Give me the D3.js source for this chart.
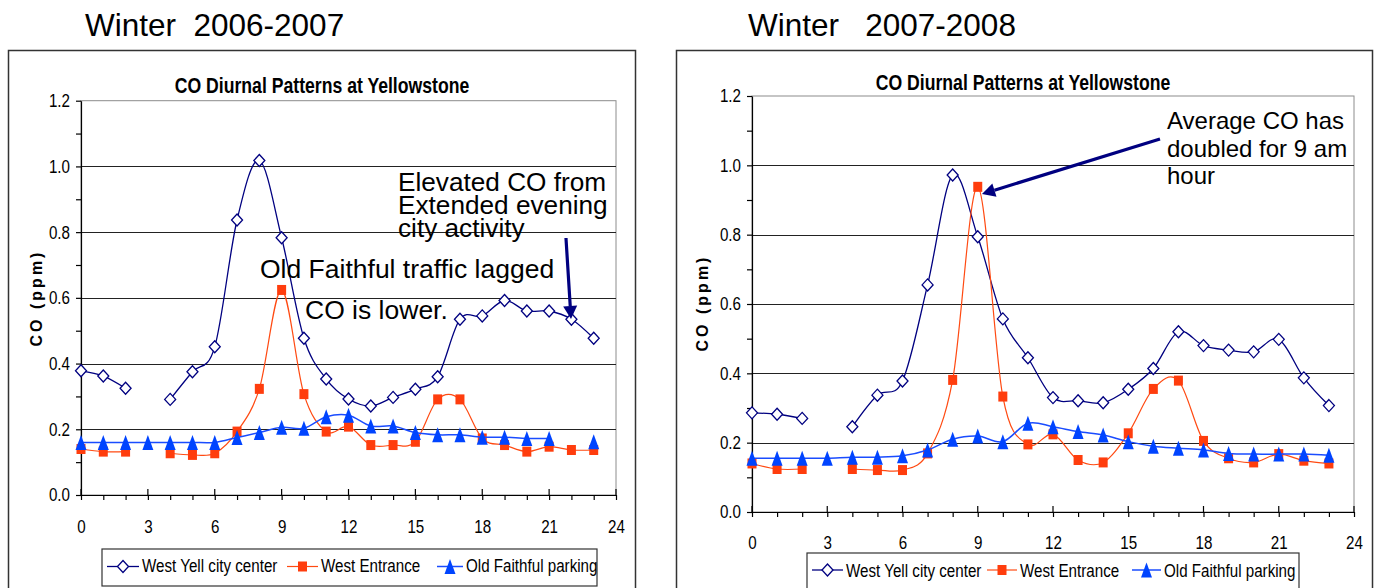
<!DOCTYPE html>
<html lang="en">
<head>
<meta charset="utf-8" />
<title>CO Diurnal Patterns at Yellowstone</title>
<script src="https://d3js.org/d3.v7.min.js"></script>
<style>
  body { margin: 0; background: #fff; }
  svg { display: block; font-family: "Liberation Sans", Arial, sans-serif; }
</style>
</head>
<body>
<svg id="graph" width="1380" height="588"></svg>
<script>
// hours of the day
const hours = [0, 1, 2, 3, 4, 5, 6, 7, 8, 9, 10, 11, 12, 13, 14, 15, 16, 17, 18, 19, 20, 21, 22, 23];
const xTickLabels = [0, 3, 6, 9, 12, 15, 18, 21, 24];
const yTickLabels = [0, 0.2, 0.4, 0.6, 0.8, 1.0, 1.2];
const seriesNames = ["West Yell city center", "West Entrance", "Old Faithful parking"];

// winter 2006-2007 (ppm)
const yell0607 = [0.378, 0.362, 0.325, null, 0.291, 0.375, 0.451, 0.837, 1.018, 0.783, 0.477, 0.353,
  0.292, 0.271, 0.297, 0.322, 0.36, 0.535, 0.545, 0.592, 0.56, 0.56, 0.535, 0.477];
const entr0607 = [0.14, 0.132, 0.132, null, 0.127, 0.122, 0.127, 0.193, 0.323, 0.624, 0.307, 0.193,
  0.208, 0.152, 0.152, 0.162, 0.291, 0.291, 0.172, 0.152, 0.132, 0.147, 0.137, 0.137];
const faith0607 = [0.16, 0.16, 0.16, 0.16, 0.16, 0.16, 0.16, 0.175, 0.19, 0.206, 0.203, 0.238,
  0.243, 0.21, 0.21, 0.19, 0.183, 0.183, 0.176, 0.176, 0.172, 0.172, null, 0.162];

// winter 2007-2008 (ppm)
const yell0708 = [0.286, 0.282, 0.27, null, 0.246, 0.337, 0.378, 0.655, 0.972, 0.794, 0.557, 0.445,
  0.33, 0.321, 0.315, 0.354, 0.414, 0.52, 0.48, 0.467, 0.462, 0.498, 0.387, 0.307];
const entr0708 = [0.14, 0.124, 0.124, null, 0.124, 0.121, 0.121, 0.169, 0.381, 0.938, 0.333, 0.195,
  0.224, 0.15, 0.143, 0.227, 0.355, 0.379, 0.205, 0.155, 0.143, 0.167, 0.148, 0.14];
const faith0708 = [0.155, 0.155, 0.155, 0.155, 0.158, 0.158, 0.162, 0.179, 0.21, 0.219, 0.203, 0.256,
  0.246, 0.232, 0.222, 0.203, 0.19, 0.184, 0.179, 0.169, 0.167, 0.167, 0.167, 0.164];

const navy = "#000080";
const narrow = 0.82; // no Arial Narrow here, squeeze Liberation Sans instead
const styles = [
  { line: navy, lw: 1.3, fill: "#fff", stroke: navy, shape: "M0,-6L5.5,0L0,6L-5.5,0Z" },
  { line: "#ff4a12", lw: 1.2, fill: "#ff3d0d", stroke: "none", shape: "M-4.5,-5H4.5V5H-4.5Z" },
  { line: "#1a4cff", lw: 1.5, fill: "#0044ff", stroke: "none", shape: "M0,-7.5L5.5,7.5L-5.5,7.5Z" }
];

const svg = d3.select("#graph");

function narrowText(g, x, y, size, txt) {
  return g.append("text")
    .attr("transform", `translate(${x},${y}) scale(${narrow},1)`)
    .attr("font-size", size).text(txt);
}

function arrow(g, x1, y1, x2, y2) {
  const a = Math.atan2(y2 - y1, x2 - x1), len = 13, hw = 7;
  const bx = x2 - len * Math.cos(a), by = y2 - len * Math.sin(a);
  g.append("line").attr("x1", x1).attr("y1", y1).attr("x2", bx).attr("y2", by)
    .attr("stroke", navy).attr("stroke-width", 3.2);
  g.append("path")
    .attr("d", `M${x2},${y2}L${bx + hw * Math.sin(a)},${by - hw * Math.cos(a)}L${bx - hw * Math.sin(a)},${by + hw * Math.cos(a)}Z`)
    .attr("fill", navy);
}

function drawChart(c) {
  const g = svg.append("g");

  g.append("text").attr("x", c.header[0]).attr("y", c.header[1])
    .attr("font-size", 31.5).attr("xml:space", "preserve").style("white-space", "pre")
    .text(c.headerText);

  g.append("rect").attr("x", c.frame[0]).attr("y", c.frame[1])
    .attr("width", c.frame[2] - c.frame[0]).attr("height", 600)
    .attr("fill", "none").attr("stroke", "#333").attr("stroke-width", 1.5);

  narrowText(g, c.title[0], c.title[1], 21.5, "CO Diurnal Patterns at Yellowstone")
    .attr("text-anchor", "middle").attr("font-weight", "bold");

  const x = d3.scaleLinear().domain([0, 24]).range([c.left, c.right]);
  const y = d3.scaleLinear().domain([0, 1.2]).range([c.bottom, c.top]);

  g.append("rect").attr("x", c.left).attr("y", c.top)
    .attr("width", c.right - c.left).attr("height", c.bottom - c.top)
    .attr("fill", "none").attr("stroke", "#8c8c8c");

  g.selectAll(".grid").data(yTickLabels.filter(v => v > 0 && v < 1.2)).join("line")
    .attr("x1", c.left).attr("x2", c.right)
    .attr("y1", v => Math.round(y(v)) + 0.5).attr("y2", v => Math.round(y(v)) + 0.5)
    .attr("stroke", "#222").attr("stroke-width", 1);

  const yMinor = d3.range(13).map(i => i / 10);
  const yAxis = d3.axisLeft(y).tickValues(yMinor).tickSize(5).tickSizeOuter(0).tickPadding(6)
    .tickFormat(v => Math.round(v * 10) % 2 === 0 ? d3.format(".1f")(v) : "");
  const ya = g.append("g").attr("transform", `translate(${c.left},0)`).call(yAxis);
  ya.attr("font-family", null);
  ya.selectAll("text").attr("font-size", 18.5).attr("fill", "#000")
    .attr("x", -11 / narrow).attr("transform", `scale(${narrow},1)`);
  ya.selectAll("line, path").attr("stroke", "#000").attr("stroke-width", 1.2);

  const xAxis = d3.axisBottom(x).tickValues(d3.range(25)).tickSize(5).tickSizeOuter(0).tickPadding(c.xPad)
    .tickFormat(v => xTickLabels.includes(v) ? v : "");
  const xa = g.append("g").attr("transform", `translate(0,${c.bottom})`).call(xAxis);
  xa.attr("font-family", null);
  xa.selectAll("text").attr("font-size", 18.5).attr("fill", "#000").attr("transform", `scale(${narrow},1)`);
  xa.selectAll("line, path").attr("stroke", "#000").attr("stroke-width", 1.2);
  g.selectAll(".inner").data(xTickLabels).join("line")
    .attr("x1", v => x(v)).attr("x2", v => x(v))
    .attr("y1", c.bottom - 6).attr("y2", c.bottom)
    .attr("stroke", "#000").attr("stroke-width", 1.2);

  g.append("text").attr("transform", `translate(${c.ylab[0]},${c.ylab[1]}) rotate(-90)`)
    .attr("text-anchor", "middle").attr("font-size", 16).attr("font-weight", "bold")
    .attr("letter-spacing", 3).text("CO (ppm)");

  c.series.forEach((vals, k) => {
    const s = styles[k];
    const line = d3.line().defined(v => v !== null)
      .x((v, i) => x(hours[i])).y(v => y(v))
      .curve(d3.curveCardinal.tension(0));
    g.append("path").attr("d", line(vals)).attr("fill", "none")
      .attr("stroke", s.line).attr("stroke-width", s.lw);
    g.selectAll(null).data(hours.filter(h => vals[h] !== null)).join("path")
      .attr("d", s.shape)
      .attr("transform", h => `translate(${x(h)},${y(vals[h])})`)
      .attr("fill", s.fill).attr("stroke", s.stroke).attr("stroke-width", 1.3);
  });

  // legend
  const L = c.legend;
  g.append("rect").attr("x", L.box[0]).attr("y", L.box[1])
    .attr("width", L.box[2] - L.box[0]).attr("height", L.box[3] - L.box[1])
    .attr("fill", "#fff").attr("stroke", "#333").attr("stroke-width", 1.2);
  seriesNames.forEach((name, k) => {
    const s = styles[k], it = L.items[k];
    g.append("line").attr("x1", it[0]).attr("x2", it[1]).attr("y1", L.my).attr("y2", L.my)
      .attr("stroke", s.line).attr("stroke-width", s.lw);
    g.append("path").attr("d", s.shape)
      .attr("transform", `translate(${(it[0] + it[1]) / 2},${L.my})`)
      .attr("fill", s.fill).attr("stroke", s.stroke).attr("stroke-width", 1.3);
    narrowText(g, it[1] + 3, L.ty, 18.5, name);
  });

  c.notes.forEach(n => {
    g.append("text").attr("x", n[0]).attr("y", n[1]).attr("font-size", n[2]).text(n[3]);
  });
  arrow(g, ...c.arrow);
}

drawChart({
  headerText: "Winter  2006-2007", header: [85, 36],
  frame: [8.5, 50.5, 635.5],
  title: [322, 93],
  left: 81, right: 616, top: 100.7, bottom: 495, xPad: 20,
  ylab: [42, 298],
  series: [yell0607, entr0607, faith0607],
  legend: { box: [102, 549, 597, 586], my: 566.5, ty: 572,
    items: [[107, 139], [287, 318], [437, 463]] },
  notes: [
    [398, 191, 26.2, "Elevated CO from"],
    [398, 214, 26.2, "Extended evening"],
    [398, 237, 26.2, "city activity"],
    [260, 278, 26.5, "Old Faithful traffic lagged"],
    [305, 319, 26.5, "CO is lower."]
  ],
  arrow: [566, 238, 571, 319]
});

drawChart({
  headerText: "Winter   2007-2008", header: [748, 36],
  frame: [676.5, 50.5, 1372.5],
  title: [1023, 90],
  left: 752, right: 1354, top: 96, bottom: 512, xPad: 19,
  ylab: [708, 303],
  series: [yell0708, entr0708, faith0708],
  legend: { box: [807, 553, 1299, 592], my: 570, ty: 577,
    items: [[812, 843], [987, 1017], [1132, 1161]] },
  notes: [
    [1167, 129, 24, "Average CO has"],
    [1167, 157, 24, "doubled for 9 am"],
    [1167, 184, 24, "hour"]
  ],
  arrow: [1160, 139, 982, 194]
});
</script>
</body>
</html>
